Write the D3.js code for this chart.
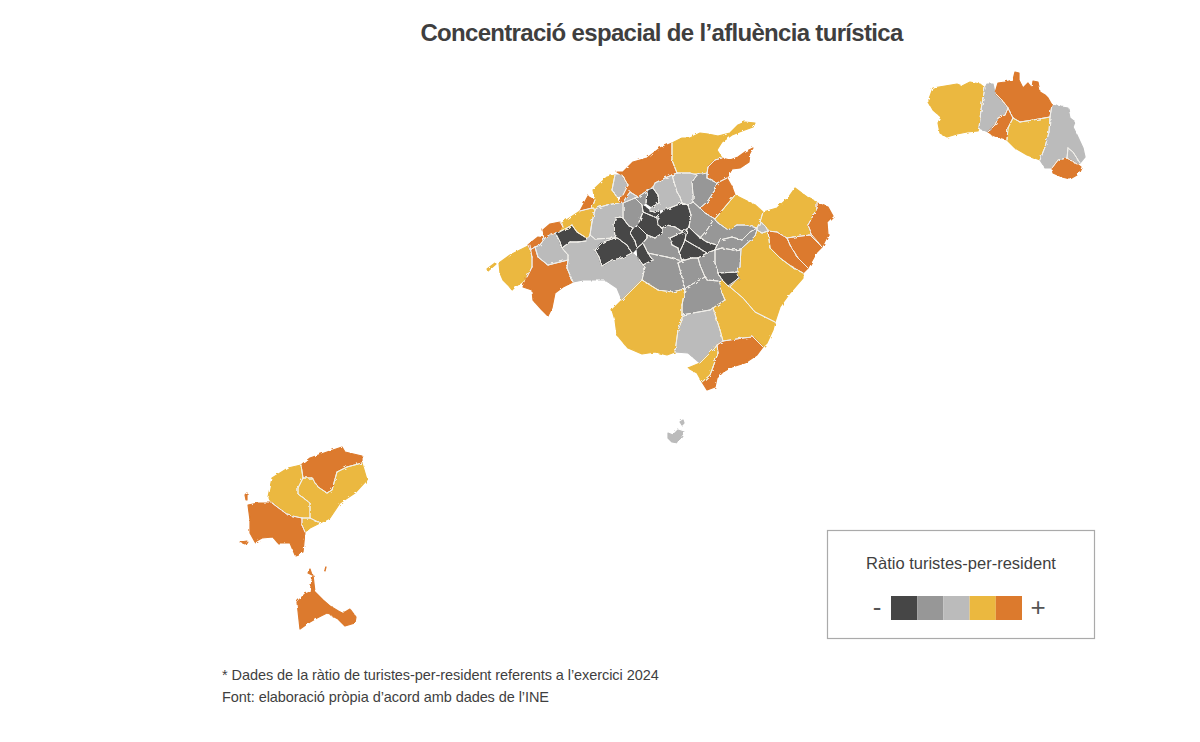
<!DOCTYPE html>
<html lang="ca">
<head>
<meta charset="utf-8">
<title>Concentració espacial de l’afluència turística</title>
<script src="https://cdn.jsdelivr.net/npm/d3@7"></script>
<style>
  html, body { margin: 0; background: #fff; }
  text { font-family: "Liberation Sans", Arial, sans-serif; fill: #3f3f3f; }
</style>
</head>
<body>
<div id="chart"></div>
<script>
const titleText = 'Concentració espacial de l’afluència turística';
const legendTitle = 'Ràtio turistes-per-resident';
const notes = [
  '* Dades de la ràtio de turistes-per-resident referents a l’exercici 2024',
  'Font: elaboració pròpia d’acord amb dades de l’INE'
];

// ratio classes, low to high
const ratioClasses = [0, 1, 2, 3, 4];
const classColors = ['#464646', '#979797', '#bbbbbb', '#ebb83f', '#dc7a2d'];

// map grid units, east / south, [name, class, ring]
const mapFrame = [[0, 0], [1000, 682]];

const menorca = [
  ['Ciutadella', 3, [[729,39],[733,28],[745,26],[757,24],[762,26],[770,22],[780,24],[785,28],[783,38],[781,50],[779,68],[778,71],[767,72],[757,74],[747,77],[740,73],[738,63],[741,57],[733,50],[729,43]]],
  ['Ferreries', 2, [[785,28],[787,24],[793,24],[795,33],[802,40],[808,48],[805,55],[798,58],[795,65],[788,72],[779,68],[781,50],[783,38]]],
  ['Es Mercadal', 4, [[795,33],[798,23],[805,22],[813,20],[815,12],[819,13],[819,20],[823,28],[828,23],[832,28],[833,21],[838,22],[840,32],[845,35],[848,38],[852,45],[850,57],[833,60],[820,62],[813,58],[810,52],[808,48],[802,40]]],
  ['Es Migjorn', 4, [[798,58],[805,55],[808,48],[810,52],[813,58],[808,68],[807,80],[800,78],[792,75],[788,72],[795,65]]],
  ['Alaior', 3, [[813,58],[820,62],[833,60],[850,57],[849,72],[845,87],[840,100],[827,95],[815,88],[807,80],[808,68]]],
  ['Maó', 2, [[852,45],[862,47],[868,48],[870,58],[875,62],[873,67],[877,75],[883,88],[885,97],[880,103],[873,92],[868,88],[867,98],[858,100],[852,108],[845,108],[840,100],[845,87],[849,72],[850,57]]],
  ['Es Castell', 2, [[867,98],[868,88],[873,92],[880,103],[877,104]]],
  ['Sant Lluís', 4, [[852,108],[858,100],[867,98],[877,104],[881,107],[877,115],[870,119],[862,117],[853,113]]]
];

const mallorcaWest = [
  ['Sa Dragonera', 3, [[287,209],[295,203],[296,204],[288,211]]],
  ['Andratx', 3, [[299,203],[310,195],[320,190],[330,185],[332,197],[332,207],[327,217],[322,222],[315,227],[312,230],[308,225],[303,220],[300,213]]],
  ['Calvià', 4, [[330,190],[335,187],[338,197],[348,205],[360,202],[368,200],[367,208],[373,222],[363,227],[355,233],[352,248],[348,256],[342,250],[333,240],[332,230],[323,227],[327,217],[332,207],[332,197]]],
  ['Estellencs', 4, [[328,185],[338,177],[345,178],[340,185],[335,187],[330,190]]],
  ['Banyalbufar', 4, [[343,170],[350,164],[360,162],[363,167],[360,171],[352,173],[345,178]]],
  ['Puigpunyent', 2, [[340,185],[345,178],[348,176],[356,174],[360,182],[362,188],[368,195],[368,200],[360,202],[348,205],[338,197],[335,187]]],
  ['Esporles', 0, [[356,174],[367,168],[372,165],[377,172],[385,177],[386,181],[378,182],[370,182],[362,188],[360,182]]],
  ['Valldemossa', 3, [[362,163],[380,151],[392,148],[395,150],[392,162],[390,175],[389,177],[385,177],[377,172],[372,165],[367,168],[360,171],[363,167]]],
  ['Deià', 4, [[380,151],[388,136],[395,140],[392,148]]],
  ['Sóller', 3, [[393,130],[407,117],[415,115],[412,130],[417,137],[418,143],[407,145],[397,148],[392,148],[395,140]]],
  ['Fornalutx', 2, [[415,115],[422,115],[428,125],[423,135],[417,137],[412,130]]],
  ['Escorca', 4, [[417,112],[423,112],[433,102],[447,98],[460,88],[472,83],[472,100],[477,113],[465,118],[455,123],[448,130],[438,137],[430,132],[423,142],[418,143],[423,135],[428,125],[422,115]]]
];

const mallorcaNorth = [
  ['Pollença', 3, [[472,83],[482,78],[490,78],[500,73],[508,74],[518,76],[530,73],[538,65],[545,62],[555,63],[553,67],[542,71],[532,75],[522,82],[517,90],[522,98],[515,100],[508,107],[507,113],[490,113],[477,113],[472,100]]],
  ['Alcúdia', 4, [[508,107],[515,100],[522,98],[530,100],[538,97],[545,92],[553,88],[550,93],[549,102],[540,108],[532,109],[527,118],[517,123],[507,118],[507,113]]],
  ['Muro', 4, [[517,123],[527,118],[532,127],[535,135],[525,147],[515,159],[505,153],[500,148],[507,142],[515,130]]],
  ['Santa Margalida', 3, [[535,135],[545,140],[555,145],[563,152],[560,162],[557,168],[547,165],[537,165],[528,170],[517,162],[515,159],[525,147]]],
  ['Artà', 3, [[563,152],[577,148],[588,138],[595,128],[607,137],[617,142],[617,148],[608,165],[612,175],[610,175],[593,177],[587,178],[577,172],[568,171],[566,167],[562,163],[560,162]]],
  ['Capdepera', 4, [[617,143],[628,147],[633,156],[627,162],[628,175],[622,187],[612,175],[608,165],[617,148]]],
  ['Son Servera', 4, [[587,178],[593,177],[610,175],[622,187],[617,192],[608,208],[598,198],[590,185]]],
  ['Sant Llorenç', 4, [[568,171],[577,172],[587,178],[590,185],[598,198],[608,208],[603,213],[592,207],[580,198],[570,188]]],
  ['Manacor', 3, [[555,176],[557,170],[562,173],[568,171],[570,188],[580,198],[592,207],[603,213],[603,218],[590,233],[580,247],[575,262],[555,252],[543,238],[530,227],[538,218],[540,207],[541,189]]],
  ['Petra nord', 2, [[557,168],[560,162],[562,163],[566,167],[568,171],[562,173],[557,170]]]
];

const mallorcaCentre = [
  ['Palma', 2, [[362,188],[370,182],[378,182],[386,181],[389,177],[390,175],[395,179],[415,178],[403,182],[395,190],[399,197],[402,206],[412,200],[422,198],[432,193],[438,198],[443,205],[445,207],[442,220],[422,240],[417,228],[405,220],[383,220],[373,222],[367,208],[368,200],[368,195]]],
  ['Bunyola', 2, [[390,175],[392,162],[395,150],[397,148],[407,145],[418,143],[423,142],[430,132],[438,137],[435,138],[423,143],[423,158],[420,157],[415,158],[414,165],[415,178],[395,179]]],
  ['Marratxí', 0, [[395,190],[403,182],[415,178],[417,178],[427,185],[432,193],[422,198],[412,200],[402,206],[399,197]]],
  ['Santa Maria', 0, [[415,158],[420,157],[423,158],[428,165],[433,168],[430,173],[435,181],[437,188],[432,193],[427,185],[417,178],[415,178],[414,165]]],
  ['Consell', 0, [[430,173],[433,168],[439,167],[447,175],[447,178],[443,183],[437,188],[435,181]]],
  ['Alaró', 0, [[439,162],[443,152],[450,155],[457,158],[458,165],[462,168],[462,173],[455,178],[447,175],[439,167]]],
  ['Santa Eugènia', 0, [[437,188],[443,183],[448,193],[453,200],[443,205],[438,198]]],
  ['Mancor', 0, [[442,145],[445,147],[450,151],[455,152],[459,150],[460,155],[457,158],[450,155],[443,152]]],
  ['Selva', 0, [[447,130],[453,128],[458,135],[459,143],[452,147],[446,143]]],
  ['Inca', 0, [[460,155],[467,149],[482,143],[488,145],[491,155],[489,167],[483,172],[475,167],[467,165],[462,168],[458,165]]],
  ['Costitx', 0, [[470,178],[483,172],[487,169],[485,180],[483,185],[479,193],[478,188],[472,185]]],
  ['Sineu', 0, [[487,169],[489,167],[495,173],[507,182],[517,185],[515,190],[507,193],[497,187],[485,180]]],
  ['Sant Joan', 0, [[483,185],[485,180],[497,187],[507,193],[498,198],[492,198],[482,201],[479,193]]],
  ['Vilafranca', 0, [[518,213],[537,212],[539,218],[528,226],[522,220]]],
  ['Binissalem', 1, [[423,143],[435,138],[442,145],[443,152],[439,162],[433,168],[428,165],[423,158]]],
  ['Lloseta', 1, [[435,138],[438,137],[448,130],[447,130],[446,143],[442,145]]],
  ['Campanet', 2, [[453,128],[455,123],[465,118],[472,115],[477,132],[480,137],[482,143],[467,149],[459,150],[455,152],[450,151],[452,147],[459,143],[458,135]]],
  ['Búger', 2, [[472,115],[477,113],[490,113],[497,115],[492,122],[493,135],[493,142],[488,145],[482,143],[480,137],[477,132]]],
  ['Sa Pobla', 1, [[492,122],[497,115],[507,113],[507,118],[517,123],[515,130],[507,142],[500,148],[493,142],[493,135]]],
  ['Llubí', 1, [[488,145],[493,142],[500,148],[505,153],[515,159],[512,162],[507,170],[500,178],[495,173],[489,167],[491,155]]],
  ['Petra', 1, [[515,159],[517,162],[528,170],[537,165],[547,165],[557,168],[550,172],[542,180],[532,177],[520,180],[517,185],[507,182],[500,178],[507,170],[512,162]]],
  ['Ariany', 1, [[520,180],[532,177],[542,180],[550,172],[557,168],[557,170],[555,176],[541,189],[533,190],[522,188],[515,190],[517,185]]],
  ['Sant Joan sud', 1, [[515,190],[522,188],[533,190],[541,189],[540,207],[537,212],[518,213],[515,203]]],
  ['Sencelles', 1, [[447,175],[455,178],[462,173],[462,168],[467,165],[475,167],[483,172],[470,178],[472,185],[478,188],[479,193],[482,201],[467,197],[457,195],[448,193],[443,183],[447,178]]],
  ['Algaida', 1, [[442,220],[445,207],[443,205],[453,200],[448,193],[457,195],[467,197],[482,201],[478,203],[482,217],[485,229],[472,232],[458,230]]],
  ['Montuïri', 1, [[478,203],[482,201],[492,198],[498,198],[500,205],[505,217],[487,227],[485,229],[482,217]]],
  ['Porreres nord', 1, [[498,198],[507,193],[515,190],[515,203],[518,213],[522,220],[518,221],[507,220],[505,217],[500,205]]],
  ['Porreres', 1, [[485,229],[487,227],[505,217],[507,220],[518,221],[520,228],[525,240],[513,248],[510,250],[482,255],[482,245]]]
];

const mallorcaSouth = [
  ['Campos', 2, [[482,255],[510,250],[513,248],[520,270],[523,281],[517,285],[515,288],[500,303],[488,293],[475,292],[478,270],[482,260]]],
  ['Llucmajor', 3, [[412,250],[422,240],[442,220],[458,230],[472,232],[485,229],[482,245],[482,260],[478,270],[475,292],[467,295],[455,292],[442,294],[428,288],[417,275],[415,260]]],
  ['Felanitx', 3, [[520,228],[522,220],[528,226],[530,227],[543,238],[555,252],[575,262],[573,270],[567,283],[563,287],[553,277],[543,278],[523,281],[520,270],[513,248],[525,240]]],
  ['Santanyí', 4, [[517,285],[523,281],[543,278],[553,277],[563,287],[557,295],[545,303],[532,307],[523,312],[517,318],[515,327],[507,330],[502,322],[510,315],[513,307],[518,293]]],
  ['Ses Salines', 3, [[488,308],[500,303],[515,288],[517,285],[518,293],[513,307],[510,315],[502,322],[497,313]]],
  ['Cabrera', 2, [[468,373],[473,375],[478,370],[484,372],[480,378],[478,383],[472,382],[468,378]]],
  ['Conills', 2, [[480,362],[483,360],[484,363],[482,365]]]
];

const pitiuses = [
  ['Sant Joan de Labritja', 4, [[101,405],[110,398],[127,392],[142,387],[145,392],[162,396],[162,403],[147,407],[137,412],[132,430],[127,433],[118,427],[112,418],[103,418]]],
  ['Sant Antoni', 3, [[101,405],[103,418],[98,428],[98,434],[110,443],[110,458],[102,458],[88,455],[72,443],[68,437],[72,418],[88,408]]],
  ['Santa Eulària', 3, [[103,418],[112,418],[118,427],[127,433],[132,430],[137,412],[147,407],[162,403],[167,420],[155,433],[140,443],[130,458],[120,463],[110,458],[110,443],[98,434],[98,428]]],
  ['Eivissa', 3, [[102,458],[110,458],[120,463],[110,468],[105,472],[102,465]]],
  ['Sant Josep', 4, [[48,445],[58,443],[72,443],[88,455],[102,458],[102,465],[105,472],[103,492],[95,495],[90,483],[78,483],[73,477],[62,478],[55,482],[50,473],[50,460]]],
  ['Es Vedrà', 4, [[40,482],[47,481],[45,484]]],
  ['Conillera', 4, [[45,435],[47,433],[47,440],[46,440]]],
  ['Formentera', 4, [[113,515],[115,532],[123,540],[130,546],[140,552],[145,552],[150,549],[156,557],[155,563],[145,566],[138,559],[127,553],[117,558],[110,562],[100,569],[97,542],[105,534],[110,532]]],
  ['Espalmador', 4, [[108,513],[110,509],[112,515]]],
  ['Espardell', 4, [[124,508],[126,507],[125,511]]]
];

const width = 1200;
const height = 742;
const municipalities = [menorca, mallorcaWest, mallorcaNorth, mallorcaCentre, mallorcaSouth, pitiuses].flat();

const svg = d3.select('#chart').append('svg').attr('width', width).attr('height', height);

const color = d3.scaleOrdinal().domain(ratioClasses).range(classColors);

const features = municipalities.map(([name, ratioClass, ring]) => ({
  type: 'Feature',
  properties: { name, ratioClass },
  geometry: { type: 'Polygon', coordinates: [[...ring, ring[0]]] }
}));

const projection = d3.geoIdentity().fitExtent([[200, 60], [1200, 742]], { type: 'MultiPoint', coordinates: mapFrame });
const path = d3.geoPath(projection);

// a border segment is drawn only when land lies on both sides of it, so the coast stays unlined
function isLand(point) {
  return municipalities.some(([, , ring]) => d3.polygonContains(ring, point));
}

const borders = municipalities.flatMap(([, , ring]) =>
  ring
    .map((a, i) => [a, ring[(i + 1) % ring.length]])
    .filter(([a, b]) => {
      const len = Math.hypot(b[0] - a[0], b[1] - a[1]);
      const nx = ((b[1] - a[1]) / len) * 1.5;
      const ny = ((a[0] - b[0]) / len) * 1.5;
      const mid = [(a[0] + b[0]) / 2, (a[1] + b[1]) / 2];
      return isLand([mid[0] + nx, mid[1] + ny]) && isLand([mid[0] - nx, mid[1] - ny]);
    })
);

// rough edges and a little softness, the coast in the source is not a clean vector
const roughen = svg.append('defs').append('filter').attr('id', 'rough').attr('x', '-2%').attr('y', '-2%').attr('width', '104%').attr('height', '104%');
roughen.append('feTurbulence').attr('type', 'fractalNoise').attr('baseFrequency', 0.22).attr('numOctaves', 2).attr('seed', 4).attr('result', 'noise');
roughen.append('feDisplacementMap').attr('in', 'SourceGraphic').attr('in2', 'noise').attr('scale', 3).attr('result', 'moved');
roughen.append('feGaussianBlur').attr('in', 'moved').attr('stdDeviation', 0.35);

svg
  .append('text')
  .attr('x', 661.5)
  .attr('y', 41)
  .attr('text-anchor', 'middle')
  .attr('font-size', 24)
  .attr('font-weight', 700)
  .attr('letter-spacing', -0.68)
  .text(titleText);

const map = svg.append('g').attr('class', 'map').attr('filter', 'url(#rough)');

map
  .append('g')
  .selectAll('path')
  .data(features)
  .join('path')
  .attr('d', path)
  .attr('fill', (d) => color(d.properties.ratioClass))
  .attr('stroke', (d) => color(d.properties.ratioClass))
  .attr('stroke-width', 1.2)
  .attr('stroke-linejoin', 'round');

map
  .append('path')
  .attr('d', path({ type: 'MultiLineString', coordinates: borders }))
  .attr('fill', 'none')
  .attr('stroke', '#f1efea')
  .attr('stroke-width', 1)
  .attr('stroke-linecap', 'round');

const legend = svg.append('g').attr('class', 'legend');

legend
  .append('rect')
  .attr('x', 827.5)
  .attr('y', 530.5)
  .attr('width', 267)
  .attr('height', 108)
  .attr('fill', '#fff')
  .attr('stroke', '#aaaaaa')
  .attr('stroke-width', 1.2);

legend
  .append('text')
  .attr('x', 961)
  .attr('y', 569)
  .attr('text-anchor', 'middle')
  .attr('font-size', 16.5)
  .text(legendTitle);

const legendX = d3.scaleBand().domain(ratioClasses).range([891, 1022]);

legend
  .selectAll('rect.swatch')
  .data(ratioClasses)
  .join('rect')
  .attr('class', 'swatch')
  .attr('x', (d) => legendX(d))
  .attr('y', 596)
  .attr('width', legendX.bandwidth())
  .attr('height', 24)
  .attr('fill', (d) => color(d));

legend
  .selectAll('text.sign')
  .data([['-', 877, 26], ['+', 1038, 26]])
  .join('text')
  .attr('class', 'sign')
  .attr('x', (d) => d[1])
  .attr('y', 616)
  .attr('text-anchor', 'middle')
  .attr('font-size', (d) => d[2])
  .style('fill', '#555')
  .text((d) => d[0]);

svg
  .append('g')
  .attr('class', 'notes')
  .selectAll('text')
  .data(notes)
  .join('text')
  .attr('x', 222)
  .attr('y', (d, i) => 680 + i * 22)
  .attr('font-size', 14.5)
  .attr('letter-spacing', -0.07)
  .text((d) => d);
</script>
</body>
</html>
